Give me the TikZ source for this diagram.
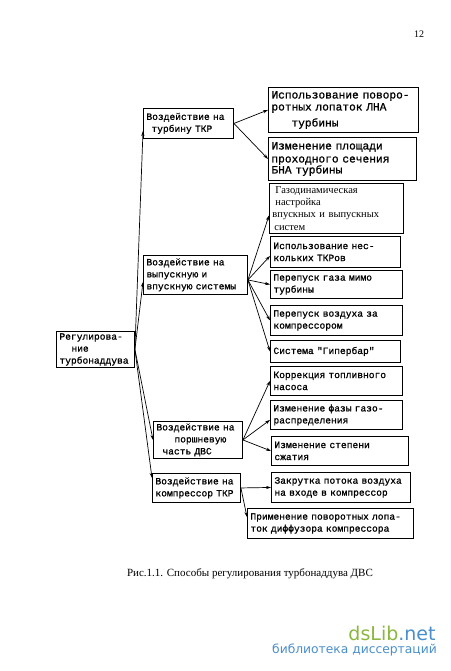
\documentclass[tikz,border=0pt]{standalone}
\usepackage{fontspec}
\setmainfont{Liberation Serif}
\newfontfamily\typewr[FakeBold=1]{Liberation Mono}
\newfontfamily\wmfont{DejaVu Sans}
\usetikzlibrary{arrows.meta, calc}
\definecolor{wmgreen}{HTML}{8BB63F}
\definecolor{wmblue}{HTML}{4A8FCB}

\begin{document}
\begin{tikzpicture}[
            x=1pt, y=-1pt,
            blok/.style={draw, line width=0.9pt, anchor=north west, align=left,
                inner xsep=3pt, inner ysep=0pt,
                font=\typewr\fontsize{9.6}{12}\selectfont},
            wide/.style={font=\typewr\fontsize{11.2}{12}\selectfont},
            link/.style={-{Stealth[length=5pt,width=3.2pt]}, line width=0.7pt}
        ]
        \fill[white] (0,0) rectangle (450,671);

        % Define blocks
        \node[blok, text width=72, minimum height=36] (root) at (56,331)
            {Регулирова-\\\hspace*{12pt}ние\\турбонаддува};

        \node[blok, text width=84, minimum height=30] (b1) at (143,108)
            {Воздействие на\\\hspace*{5pt}турбину ТКР};
        \node[blok, text width=98, minimum height=39] (b2) at (143,255)
            {Воздействие на\\выпускную и\\впускную системы};
        \node[blok, text width=83, minimum height=37] (b3) at (153,421)
            {Воздействие на\\\hspace*{18pt}поршневую\\\hspace*{6pt}часть ДВС};
        \node[blok, text width=82, minimum height=29] (b4) at (152,473)
            {Воздействие на\\компрессор ТКР};

        \node[blok, wide, text width=144, minimum height=45] (r1) at (268,87)
            {Использование поворо-\\ротных лопаток ЛНА\\[4pt]\hspace*{20pt}турбины};
        \node[blok, wide, text width=142, minimum height=43] (r2) at (268,137)
            {Изменение площади\\[1pt]проходного сечения\\[-1pt]БНА турбины};
        \node[blok, font=\fontsize{10.5}{12.3}\selectfont, text width=128, minimum height=50] (r3) at (269,183)
            {\hspace*{3pt}Газодинамическая\\\hspace*{3pt}настройка\\впускных и выпускных\\\hspace*{2pt}систем};
        \node[blok, text width=124, minimum height=31] (r4) at (270,236)
            {Использование нес-\\кольких ТКРов};
        \node[blok, text width=126, minimum height=28] (r5) at (270,270)
            {Перепуск газа мимо\\турбины};
        \node[blok, text width=126, minimum height=30] (r6) at (270,305)
            {Перепуск воздуха за\\компрессором};
        \node[blok, text width=124, minimum height=22] (r7) at (270,340)
            {Система "Гипербар"};
        \node[blok, text width=126, minimum height=29] (r8) at (270,366)
            {Коррекция топливного\\насоса};
        \node[blok, text width=126, minimum height=29] (r9) at (270,400)
            {Изменение фазы газо-\\распределения};
        \node[blok, text width=131, minimum height=29] (r10) at (271,436)
            {Изменение степени\\сжатия};
        \node[blok, text width=133, minimum height=30] (r11) at (271,472)
            {Закрутка потока воздуха\\на входе в компрессор};
        \node[blok, text width=160, minimum height=30] (r12) at (247,508)
            {Применение поворотных лопа-\\ток диффузора компрессора};

        % Draw links
        \draw[link] (root.east) -- ($(b1.south west)+(0,-8)$);
        \draw[link] (root.east) -- ($(b2.west)+(0,7)$);
        \draw[link] (root.east) -- (b3.west);
        \draw[link] (root.east) -- ($(b4.north west)+(0,5)$);

        \draw[link] (b1.east) -- (r1.west);
        \draw[link] (b1.east) -- (r2.west);

        \draw[link] ($(b2.east)+(0,5)$) -- ($(r3.west)+(0,7)$);
        \draw[link] ($(b2.east)+(0,5)$) -- ($(r4.west)+(0,4)$);
        \draw[link] ($(b2.east)+(0,5)$) -- (r5.west);
        \draw[link] ($(b2.east)+(0,5)$) -- (r6.west);
        \draw[link] ($(b2.east)+(0,5)$) -- (r7.west);

        \draw[link] (b3.east) -- (r8.west);
        \draw[link] (b3.east) -- ($(r9.west)+(0,5)$);
        \draw[link] (b3.east) -- (r10.west);

        \draw[link] (b4.east) -- (r11.west);
        \draw[link] (b4.east) -- ($(r12.north west)+(0,9)$);

        % Caption, page number, watermark
        \node[font=\fontsize{11}{13}\selectfont] (caption) at (250,574)
            {Рис.1.1. Способы регулирования турбонаддува ДВС};
        \node[font=\fontsize{10}{12}\selectfont] (pagenum) at (419,34) {12};
        \node[font=\wmfont\fontsize{19}{22}\selectfont, inner sep=0pt] (wmtop) at (392,633)
            {\textcolor{wmgreen}{dsLib}\textcolor{wmblue}{.net}};
        \node[font=\wmfont\fontsize{12.3}{14}\selectfont, text=wmblue, inner sep=0pt] (wmbot) [anchor=east] at (437,650)
            {библиотека диссертаций};
\end{tikzpicture}
\end{document}
